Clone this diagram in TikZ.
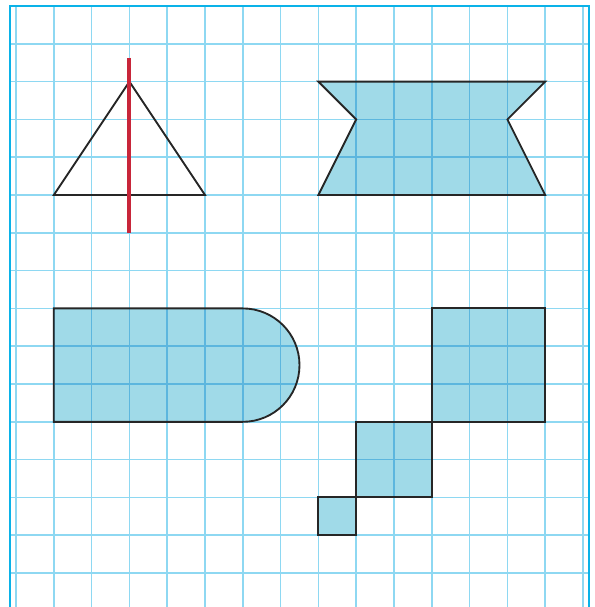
\documentclass[tikz,border=0pt]{standalone}
\definecolor{gridc}{RGB}{142,216,242}
\definecolor{gridd}{RGB}{92,182,222}
\definecolor{bordc}{RGB}{10,178,232}
\definecolor{fillc}{RGB}{160,218,232}
\definecolor{redc}{RGB}{200,38,58}
\tikzset{
  gridline/.style={gridc, line width=1.3pt},
  gridin/.style={gridd, line width=1.3pt},
  shapeline/.style={black!85, line width=1.4pt, line join=miter},
  shapefill/.style={fill=fillc}
}
\begin{document}
\begin{tikzpicture}[x=1cm,y=1cm]
\useasboundingbox (-0.423,0.159) rectangle (15.317,-15.899);
\fill[white] (-0.423,0.159) rectangle (15.317,-15.899);
% shapes fill
\def\bowtie{(8,-2) -- (14,-2) -- (13,-3) -- (14,-5) -- (8,-5) -- (9,-3) -- cycle}
\def\pill{(1,-8) -- (6,-8) arc[start angle=90,end angle=-90,radius=1.5] -- (1,-11) -- cycle}
\def\sqA{(11,-8) rectangle (14,-11)}
\def\sqB{(9,-11) rectangle (11,-13)}
\def\sqC{(8,-13) rectangle (9,-14)}
\fill[shapefill] \bowtie;
\fill[shapefill] \pill;
\fill[shapefill] \sqA;
\fill[shapefill] \sqB;
\fill[shapefill] \sqC;
% grid
\foreach \i in {0,...,15} {\draw[gridline] (\i,0) -- (\i,-15.95);}
\foreach \j in {1,...,15} {\draw[gridline] (-0.159,-\j) -- (15.16,-\j);}
% darker grid inside shapes
\foreach \s in {\bowtie,\pill,\sqA,\sqB,\sqC} {
  \begin{scope}
    \clip \s;
    \foreach \i in {0,...,15} {\draw[gridin] (\i,0) -- (\i,-15.95);}
    \foreach \j in {1,...,15} {\draw[gridin] (-0.159,-\j) -- (15.16,-\j);}
  \end{scope}
}
% border
\draw[bordc, line width=1.8pt] (-0.159,-16.2) -- (-0.159,0) -- (15.16,0) -- (15.16,-16.2);
% outlines
\draw[shapeline] (3,-2) -- (5,-5) -- (1,-5) -- cycle;
\draw[shapeline] \bowtie;
\draw[shapeline] \pill;
\draw[shapeline] \sqA;
\draw[shapeline] \sqB;
\draw[shapeline] \sqC;
% red symmetry line
\coordinate (rtop) at (3,-1.37);
\coordinate (rbot) at (3,-6.0);
\draw[redc, line width=3pt] (rtop) -- (rbot);
\end{tikzpicture}
\end{document}
